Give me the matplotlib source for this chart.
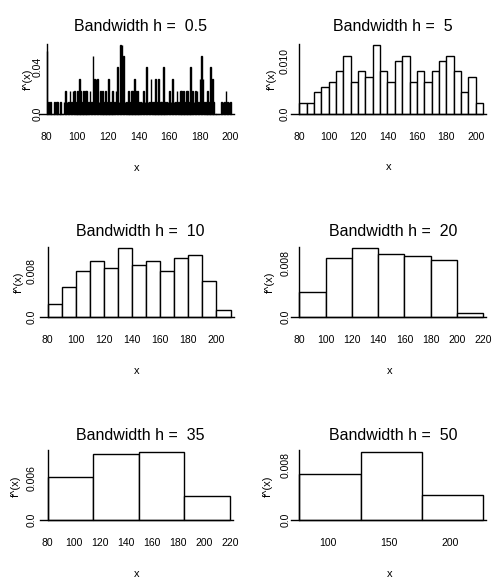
import numpy as np
import matplotlib.pyplot as plt
from matplotlib.transforms import ScaledTranslation

plt.rcParams['font.family'] = ['Liberation Sans', 'DejaVu Sans']

W, H = 493, 579

bandwidths = [0.5, 5, 10, 20, 35, 50]
titles = ["Bandwidth h =  0.5", "Bandwidth h =  5", "Bandwidth h =  10",
          "Bandwidth h =  20", "Bandwidth h =  35", "Bandwidth h =  50"]
first_break = [80, 80, 80, 80, 80, 77]

# h = 0.5: one bar per integer value 80..200
h05_values = list(range(80, 201))
h05_dens = [
    0.054, 0.010, 0.010, 0.000, 0.000, 0.010, 0.010, 0.010, 0.000, 0.010,  # 80-89
    0.000, 0.010, 0.020, 0.010, 0.010, 0.020, 0.010, 0.020, 0.020, 0.010,  # 90-99
    0.020, 0.030, 0.020, 0.010, 0.020, 0.020, 0.020, 0.010, 0.020, 0.010,  # 100-109
    0.050, 0.030, 0.030, 0.030, 0.010, 0.020, 0.020, 0.010, 0.020, 0.010,  # 110-119
    0.030, 0.010, 0.010, 0.020, 0.010, 0.020, 0.040, 0.010, 0.059, 0.059,  # 120-129
    0.050, 0.010, 0.010, 0.020, 0.010, 0.020, 0.020, 0.030, 0.020, 0.020,  # 130-139
    0.010, 0.010, 0.010, 0.020, 0.010, 0.040, 0.010, 0.010, 0.030, 0.010,  # 140-149
    0.010, 0.030, 0.010, 0.030, 0.010, 0.010, 0.040, 0.010, 0.010, 0.010,  # 150-159
    0.020, 0.010, 0.030, 0.010, 0.010, 0.020, 0.010, 0.020, 0.020, 0.020,  # 160-169
    0.010, 0.020, 0.020, 0.010, 0.040, 0.020, 0.010, 0.020, 0.020, 0.010,  # 170-179
    0.030, 0.050, 0.030, 0.010, 0.010, 0.020, 0.010, 0.040, 0.030, 0.010,  # 180-189
    0.000, 0.000, 0.000, 0.000, 0.010, 0.010, 0.010, 0.020, 0.010, 0.010,  # 190-199
    0.010,                                                                 # 200
]
h5_dens = [0.002, 0.002, 0.004, 0.005, 0.006, 0.008, 0.011, 0.006, 0.008, 0.007,
           0.013, 0.008, 0.006, 0.010, 0.011, 0.006, 0.008, 0.006, 0.008, 0.010,
           0.011, 0.008, 0.004, 0.007, 0.002]
h10_dens = [0.00226, 0.00508, 0.00791, 0.0096, 0.00847, 0.01186, 0.00904,
            0.0096, 0.00791, 0.01017, 0.01073, 0.00621, 0.00113]
h20_dens = [0.00367, 0.00876, 0.01017, 0.00932, 0.00904, 0.00847, 0.000565]
h35_dens = [0.00613, 0.00936, 0.00969, 0.00339]
h50_dens = [0.00669, 0.00993, 0.00359]

ytick_vals = [0.04, 0.010, 0.008, 0.008, 0.006, 0.008]
ytick_labels = ["0.04", "0.010", "0.008", "0.008", "0.006", "0.008"]
xtick_vals = [[80, 100, 120, 140, 160, 180, 200],
              [80, 100, 120, 140, 160, 180, 200],
              [80, 100, 120, 140, 160, 180, 200],
              [80, 100, 120, 140, 160, 180, 200, 220],
              [80, 100, 120, 140, 160, 180, 200, 220],
              [100, 150, 200]]

# pixel layout: axis x, bars end x, baseline y, top y, title centre, ylabel / ytick offsets
layout = [
    dict(x0=46.7, x1=231.0, base=114.0, top=45.0, tx=140, ty=26.7, ylab=19, ytk=9.5),
    dict(x0=299.3, x1=483.0, base=113.5, top=45.0, tx=393, ty=26.7, ylab=27, ytk=15),
    dict(x0=47.7, x1=230.5, base=316.7, top=248.3, tx=140, ty=231.7, ylab=29, ytk=16),
    dict(x0=299.3, x1=483.3, base=316.7, top=248.3, tx=393, ty=231.7, ylab=29, ytk=14),
    dict(x0=47.7, x1=230.0, base=520.0, top=451.7, tx=140, ty=435.0, ylab=32, ytk=16.5),
    dict(x0=299.3, x1=483.3, base=520.0, top=451.7, tx=393, ty=435.0, ylab=31, ytk=13.5),
]

all_dens = [h05_dens, h5_dens, h10_dens, h20_dens, h35_dens, h50_dens]

fig = plt.figure(figsize=(W / 100, H / 100), dpi=100)
fig.patch.set_facecolor('white')


def offset(dx, dy):
    return ScaledTranslation(dx / 100, dy / 100, fig.dpi_scale_trans)


for i, h in enumerate(bandwidths):
    L = layout[i]
    dens = all_dens[i]
    if i == 0:
        lefts = np.array(h05_values, dtype=float)
        widths = np.full(len(lefts), h)
        e0, e1 = h05_values[0], h05_values[-1] + h
    else:
        lefts = first_break[i] + h * np.arange(len(dens))
        widths = np.full(len(dens), h)
        e0, e1 = first_break[i], first_break[i] + h * len(dens)

    ppu = (L['x1'] - L['x0']) / (e1 - e0)
    padl, padr = 8, 3
    rect = [(L['x0'] - padl) / W, 1 - L['base'] / H,
            (L['x1'] - L['x0'] + padl + padr) / W, (L['base'] - L['top']) / H]
    ax = fig.add_axes(rect)
    ymax = max(dens)
    ax.set_xlim(e0 - padl / ppu, e1 + padr / ppu)
    ax.set_ylim(0, ymax)
    ax.axis('off')

    if i == 0:
        ax.bar(lefts, dens, width=widths, align='edge', facecolor='black',
               edgecolor='black', linewidth=1.0, clip_on=False)
    else:
        ax.bar(lefts, dens, width=widths, align='edge', facecolor='white',
               edgecolor='black', linewidth=1.0, clip_on=False)
    ax.plot(ax.get_xlim(), [0, 0], color='black', lw=1.0, clip_on=False)
    ax.plot([e0, e0], [0, ymax * 1.02], color='black', lw=1.0, clip_on=False)

    # y tick labels (rotated)
    for v, lab in [(0.0, "0.0"), (ytick_vals[i], ytick_labels[i])]:
        ax.text(e0, v, lab, rotation=90, ha='center', va='center', fontsize=7.5,
                transform=ax.transData + offset(-L['ytk'], 0))
    # y label
    ax.text(e0, ymax / 2, "f^(x)", rotation=90, ha='center', va='center', fontsize=8,
            transform=ax.transData + offset(-L['ylab'], 0))
    # x tick labels
    for v in xtick_vals[i]:
        ax.text(v, 0, str(v), ha='center', va='center', fontsize=7.5,
                transform=ax.transData + offset(0, -23))
    # x label
    ax.text((e0 + e1) / 2 - 2 / ppu, 0, "x", ha='center', va='center', fontsize=8,
            transform=ax.transData + offset(0, -54))
    fig.text(L['tx'] / W, 1 - L['ty'] / H, titles[i], ha='center', va='center',
             fontsize=11.5)

fig.savefig('out.png', dpi=100)
